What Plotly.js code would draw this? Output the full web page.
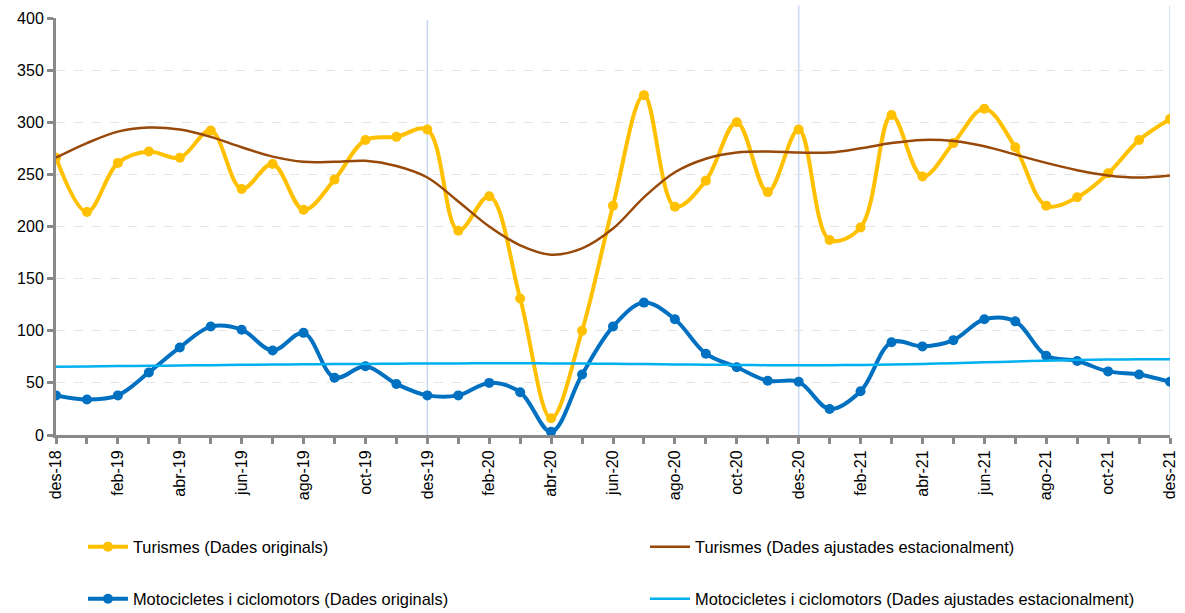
<!DOCTYPE html>
<html>
<head>
<meta charset="utf-8">
<script src="https://cdn.plot.ly/plotly-3.0.1.min.js"></script>
<style>html,body{margin:0;padding:0;background:#fff;}#chart{width:1185px;height:613px;}</style>
</head>
<body>
<div id="chart"></div>
<script>
const months = ["des-18","gen-19","feb-19","mar-19","abr-19","mai-19","jun-19","jul-19","ago-19","set-19","oct-19","nov-19",
  "des-19","gen-20","feb-20","mar-20","abr-20","mai-20","jun-20","jul-20","ago-20","set-20","oct-20","nov-20",
  "des-20","gen-21","feb-21","mar-21","abr-21","mai-21","jun-21","jul-21","ago-21","set-21","oct-21","nov-21","des-21"];
const tickLabels = ["des-18","","feb-19","","abr-19","","jun-19","","ago-19","","oct-19","",
  "des-19","","feb-20","","abr-20","","jun-20","","ago-20","","oct-20","",
  "des-20","","feb-21","","abr-21","","jun-21","","ago-21","","oct-21","","des-21"];
const turismesOrig = [266,214,261,272,266,292,236,260,216,245,283,286,293,196,229,131,16,100,220,326,219,244,300,233,293,187,199,307,248,280,313,276,220,228,251,283,303];
const turismesAdj = [266,280,291,295,293,286,276,267,262,262,263,258,247,224,200,182,173,179,198,228,252,265,271,272,271,271,275,280,283,282,277,269,261,254,249,247,249];
const motosOrig = [38,34,38,60,84,104,101,81,98,55,66,49,38,38,50,41,3,58,104,127,111,78,65,52,51,25,42,89,85,91,111,109,76,71,61,58,51];
const motosAdj = [65.5,65.8,66.1,66.4,66.7,67.0,67.3,67.6,67.8,68.0,68.2,68.4,68.6,68.7,68.8,68.8,68.7,68.5,68.3,68.0,67.7,67.4,67.2,67.0,67.0,67.0,67.2,67.6,68.2,68.9,69.7,70.5,71.3,72.0,72.4,72.6,72.7];
const verticalMarks = ["des-19","des-20","des-21"];
const yTicks = [0,50,100,150,200,250,300,350,400];

const FONT = "Arial, 'Liberation Sans', sans-serif";
const traces = [
  {x: months, y: turismesOrig, name: "Turismes (Dades originals)", type: "scatter", mode: "lines+markers",
   line: {color: "#FFC000", width: 4, shape: "spline", smoothing: 1}, marker: {color: "#FFC000", size: 10}, legend: "legend"},
  {x: months, y: turismesAdj, name: "Turismes (Dades ajustades estacionalment)", type: "scatter", mode: "lines",
   line: {color: "#984807", width: 2.5, shape: "spline", smoothing: 1}, legend: "legend2"},
  {x: months, y: motosOrig, name: "Motocicletes i ciclomotors (Dades originals)", type: "scatter", mode: "lines+markers",
   line: {color: "#0070C0", width: 4, shape: "spline", smoothing: 1}, marker: {color: "#0070C0", size: 10}, legend: "legend3"},
  {x: months, y: motosAdj, name: "Motocicletes i ciclomotors (Dades ajustades estacionalment)", type: "scatter", mode: "lines",
   line: {color: "#00B0F0", width: 2.5, shape: "spline", smoothing: 1}, legend: "legend4"}
];

const shapes = verticalMarks.map((m, i) => ({
  type: "line", xref: "x", yref: "paper", x0: months.indexOf(m), x1: months.indexOf(m),
  y0: 0, y1: i === 0 ? 0.995 : 1.03, line: {color: "#C6D9F1", width: 1.5}, layer: "below"
}));

function leg(x, y) {
  return {orientation: "h", xref: "container", yref: "container", xanchor: "left", yanchor: "middle", x: x, y: y,
    font: {family: FONT, size: 16.4, color: "#000"}, bgcolor: "rgba(0,0,0,0)", itemwidth: 40};
}

const layout = {
  width: 1185, height: 613,
  margin: {l: 56, r: 15, t: 18, b: 178},
  paper_bgcolor: "#fff", plot_bgcolor: "#fff",
  font: {family: FONT, size: 16, color: "#000"},
  showlegend: true,
  legend: leg(0.0700, 0.1077),
  legend2: leg(0.5443, 0.1077),
  legend3: leg(0.0700, 0.0228),
  legend4: leg(0.5443, 0.0228),
  xaxis: {type: "category", range: [0, 36], tickmode: "array", tickvals: months, ticktext: tickLabels,
    tickangle: -90, ticks: "outside", ticklen: 6, tickwidth: 3, tickcolor: "#898989",
    showline: true, linecolor: "#898989", linewidth: 3, showgrid: false, zeroline: false,
    tickfont: {family: FONT, size: 16, color: "#000"}},
  yaxis: {range: [0, 400], tickmode: "array", tickvals: yTicks, ticks: "outside", ticklen: 6, tickwidth: 3,
    tickcolor: "#898989", showline: true, linecolor: "#898989", linewidth: 3,
    showgrid: true, gridcolor: "#E4E4E4", gridwidth: 1, griddash: "dash", zeroline: false,
    tickfont: {family: FONT, size: 16, color: "#000"}},
  shapes: shapes
};

Plotly.newPlot("chart", traces, layout, {displayModeBar: false, staticPlot: true});
</script>
</body>
</html>
